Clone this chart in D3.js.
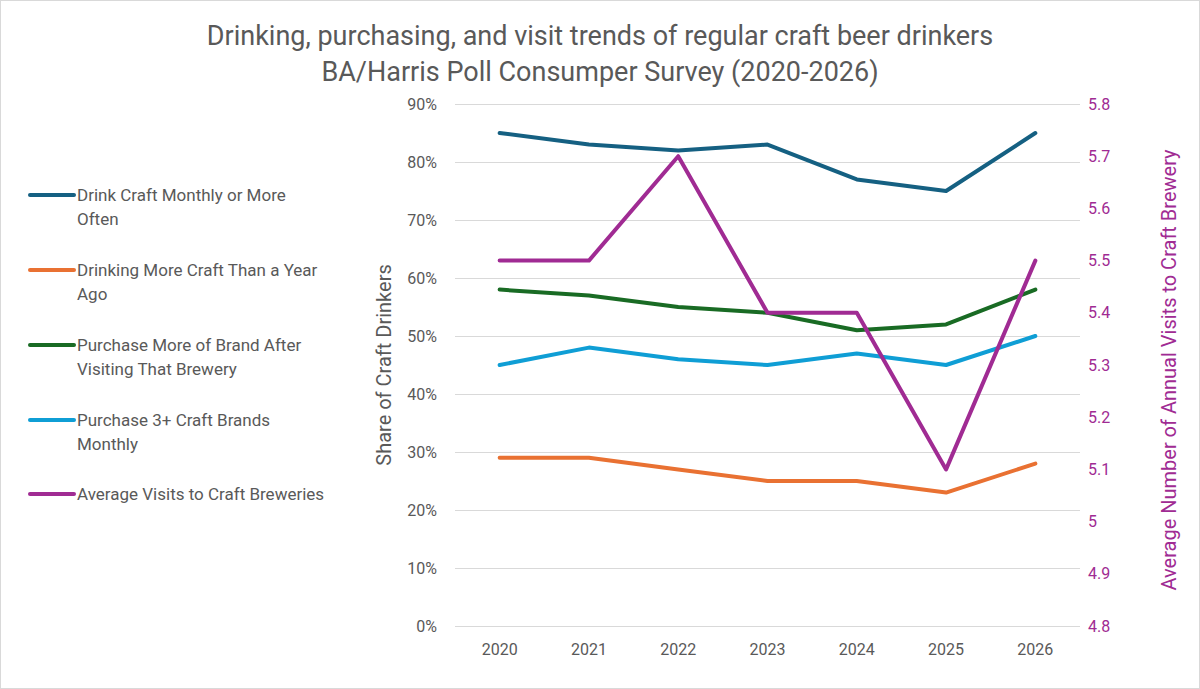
<!DOCTYPE html>
<html>
<head>
<meta charset="utf-8">
<script src="https://cdn.jsdelivr.net/npm/d3@7"></script>
<style>
  body { margin: 0; background: #fff; }
  text { font-family: Roboto, "Noto Sans", sans-serif; }
</style>
</head>
<body>
<script>
// Chart size
var w = 1200;
var h = 689;

// Data
var years = ["2020", "2021", "2022", "2023", "2024", "2025", "2026"];
var drinkMonthly = [85, 83, 82, 83, 77, 75, 85];
var drinkingMore = [29, 29, 27, 25, 25, 23, 28];
var purchaseAfterVisit = [58, 57, 55, 54, 51, 52, 58];
var purchase3Brands = [45, 48, 46, 45, 47, 45, 50];
var avgVisits = [5.5, 5.5, 5.7, 5.4, 5.4, 5.1, 5.5];

// legend labels, already split the way the reference wraps them
var seriesNames = [
    ["Drink Craft Monthly or More", "Often"],
    ["Drinking More Craft Than a Year", "Ago"],
    ["Purchase More of Brand After", "Visiting That Brewery"],
    ["Purchase 3+ Craft Brands", "Monthly"],
    ["Average Visits to Craft Breweries"]
];
var leftTicks = [0, 10, 20, 30, 40, 50, 60, 70, 80, 90];
var rightTicks = [4.8, 4.9, 5, 5.1, 5.2, 5.3, 5.4, 5.5, 5.6, 5.7, 5.8];

var colors = ["#156082", "#E97132", "#196B24", "#0F9ED5", "#A02B93"];
var textColor = "#595959";

// Plot area
var plotLeft = 455, plotRight = 1080, plotTop = 104, plotBottom = 626;

var svg = d3.select("body")
    .append("svg")
    .attr("width", w)
    .attr("height", h);

// Chart border
svg.append("rect")
    .attr("x", 0.5).attr("y", 0.5)
    .attr("width", w - 1).attr("height", h - 1)
    .attr("fill", "#fff")
    .attr("stroke", "#d9d9d9");

var xScale = d3.scaleBand()
    .domain(years)
    .range([plotLeft, plotRight]);

var yScale = d3.scaleLinear()
    .domain([0, 90])
    .range([plotBottom, plotTop]);

var y2Scale = d3.scaleLinear()
    .domain([4.8, 5.8])
    .range([plotBottom, plotTop]);

// Gridlines
svg.append("g")
    .selectAll("line")
    .data(leftTicks)
    .enter()
    .append("line")
    .attr("x1", plotLeft)
    .attr("x2", plotRight)
    .attr("y1", function(d) { return Math.round(yScale(d)) + 0.5; })
    .attr("y2", function(d) { return Math.round(yScale(d)) + 0.5; })
    .attr("stroke", "#d9d9d9")
    .attr("stroke-width", 1);

// Left axis
var yAxis = d3.axisLeft(yScale)
    .tickValues(leftTicks)
    .tickSize(0)
    .tickPadding(18)
    .tickFormat(function(d) { return d + "%"; });

var gy = svg.append("g")
    .attr("transform", "translate(" + plotLeft + ",0)")
    .call(yAxis);
gy.select(".domain").remove();
gy.selectAll("text")
    .attr("fill", textColor)
    .style("font-size", "16px");

// Right axis
var y2Axis = d3.axisRight(y2Scale)
    .tickValues(rightTicks)
    .tickSize(0)
    .tickPadding(8)
    .tickFormat(function(d) { return String(+d.toFixed(1)); });

var gy2 = svg.append("g")
    .attr("transform", "translate(" + plotRight + ",0)")
    .call(y2Axis);
gy2.select(".domain").remove();
gy2.selectAll("text")
    .attr("fill", colors[4])
    .style("font-size", "16px");

// Bottom axis
var xAxis = d3.axisBottom(xScale)
    .tickSize(0)
    .tickPadding(18);

var gx = svg.append("g")
    .attr("transform", "translate(0," + plotBottom + ")")
    .call(xAxis);
gx.select(".domain").remove();
gx.selectAll("text")
    .attr("fill", textColor)
    .style("font-size", "16px");

// Lines
var leftSeries = [drinkMonthly, drinkingMore, purchaseAfterVisit, purchase3Brands];

var line = d3.line()
    .x(function(d, i) { return xScale(years[i]) + xScale.bandwidth() / 2; })
    .y(function(d) { return yScale(d); });

var line2 = d3.line()
    .x(function(d, i) { return xScale(years[i]) + xScale.bandwidth() / 2; })
    .y(function(d) { return y2Scale(d); });

svg.selectAll(".series")
    .data(leftSeries)
    .enter()
    .append("path")
    .attr("class", "series")
    .attr("d", line)
    .attr("fill", "none")
    .attr("stroke", function(d, i) { return colors[i]; })
    .attr("stroke-width", 4)
    .attr("stroke-linecap", "round")
    .attr("stroke-linejoin", "round");

svg.append("path")
    .attr("d", line2(avgVisits))
    .attr("fill", "none")
    .attr("stroke", colors[4])
    .attr("stroke-width", 4)
    .attr("stroke-linecap", "round")
    .attr("stroke-linejoin", "round");

// Title
svg.append("text")
    .attr("x", 600)
    .attr("y", 45)
    .attr("text-anchor", "middle")
    .attr("fill", textColor)
    .style("font-size", "27px")
    .text("Drinking, purchasing, and visit trends of regular craft beer drinkers");

svg.append("text")
    .attr("x", 600)
    .attr("y", 81)
    .attr("text-anchor", "middle")
    .attr("fill", textColor)
    .style("font-size", "27px")
    .text("BA/Harris Poll Consumper Survey (2020-2026)");

// Axis titles
svg.append("text")
    .attr("transform", "translate(391," + ((plotTop + plotBottom) / 2) + ") rotate(-90)")
    .attr("text-anchor", "middle")
    .attr("fill", textColor)
    .style("font-size", "20px")
    .text("Share of Craft Drinkers");

svg.append("text")
    .attr("transform", "translate(1176," + ((plotTop + plotBottom) / 2 + 5) + ") rotate(-90)")
    .attr("text-anchor", "middle")
    .attr("fill", colors[4])
    .style("font-size", "20px")
    .text("Average Number of Annual Visits to Craft Brewery");

// Legend
var legendY = [195, 270, 345, 420, 494];
var legend = svg.selectAll(".legend")
    .data(seriesNames)
    .enter()
    .append("g")
    .attr("class", "legend")
    .attr("transform", function(d, i) { return "translate(30," + legendY[i] + ")"; });

legend.append("line")
    .attr("x1", 0).attr("x2", 44)
    .attr("y1", 0).attr("y2", 0)
    .attr("stroke", function(d, i) { return colors[i]; })
    .attr("stroke-width", 4)
    .attr("stroke-linecap", "round");

legend.append("text")
    .attr("y", 6)
    .attr("fill", textColor)
    .style("font-size", "17px")
    .selectAll("tspan")
    .data(function(d) { return d; })
    .enter()
    .append("tspan")
    .attr("x", 47)
    .attr("dy", function(d, i) { return i === 0 ? 0 : 24; })
    .text(function(d) { return d; });
</script>
</body>
</html>
